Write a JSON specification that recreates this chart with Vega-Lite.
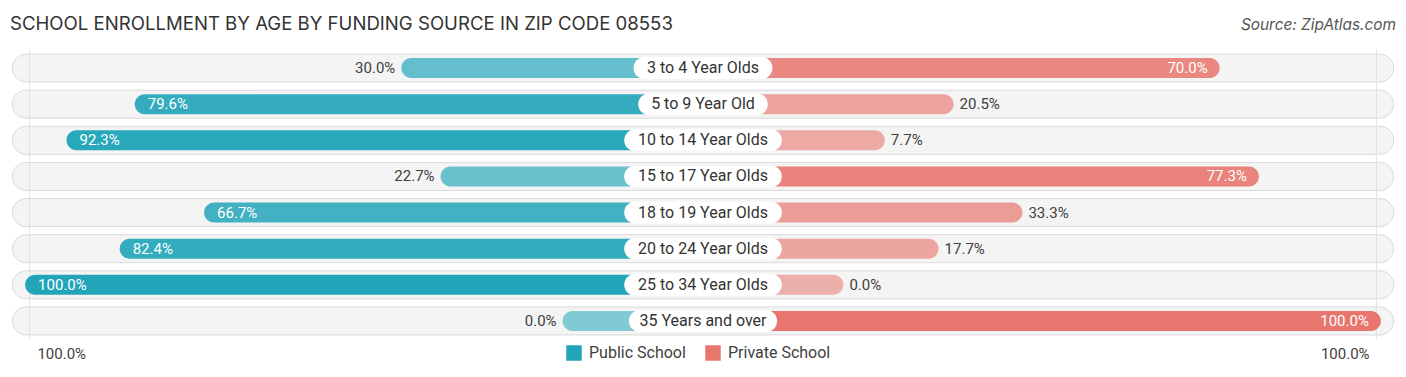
{
  "$schema": "https://vega.github.io/schema/vega-lite/v6.json",
  "width": 1406,
  "height": 289,
  "autosize": {"type": "none"},
  "padding": {"top": 50, "left": 0, "right": 0, "bottom": 38},
  "background": "white",
  "title": {
    "text": "SCHOOL ENROLLMENT BY AGE BY FUNDING SOURCE IN ZIP CODE 08553",
    "anchor": "start",
    "frame": "group",
    "dx": 10,
    "offset": -17,
    "font": "Inter",
    "fontSize": 18.6,
    "fontWeight": "normal",
    "color": "#333333"
  },
  "datasets": {
    "enroll": [
      {"age": "3 to 4 Year Olds", "source": "Public School", "value": 0.300},
      {"age": "3 to 4 Year Olds", "source": "Private School", "value": 0.700},
      {"age": "5 to 9 Year Old", "source": "Public School", "value": 0.796},
      {"age": "5 to 9 Year Old", "source": "Private School", "value": 0.205},
      {"age": "10 to 14 Year Olds", "source": "Public School", "value": 0.923},
      {"age": "10 to 14 Year Olds", "source": "Private School", "value": 0.077},
      {"age": "15 to 17 Year Olds", "source": "Public School", "value": 0.227},
      {"age": "15 to 17 Year Olds", "source": "Private School", "value": 0.773},
      {"age": "18 to 19 Year Olds", "source": "Public School", "value": 0.667},
      {"age": "18 to 19 Year Olds", "source": "Private School", "value": 0.333},
      {"age": "20 to 24 Year Olds", "source": "Public School", "value": 0.824},
      {"age": "20 to 24 Year Olds", "source": "Private School", "value": 0.177},
      {"age": "25 to 34 Year Olds", "source": "Public School", "value": 1.000},
      {"age": "25 to 34 Year Olds", "source": "Private School", "value": 0.000},
      {"age": "35 Years and over", "source": "Public School", "value": 0.000},
      {"age": "35 Years and over", "source": "Private School", "value": 1.000}
    ]
  },
  "data": {"name": "enroll"},
  "layer": [
    {
      "transform": [{"filter": "datum.source == 'Public School'"}],
      "mark": {"type": "bar", "height": 28, "cornerRadius": 14, "fill": "#f4f4f4", "stroke": "#dadada", "strokeWidth": 1},
      "encoding": {
        "y": {"field": "age", "type": "nominal", "sort": ["3 to 4 Year Olds", "5 to 9 Year Old", "10 to 14 Year Olds", "15 to 17 Year Olds", "18 to 19 Year Olds", "20 to 24 Year Olds", "25 to 34 Year Olds", "35 Years and over"], "scale": {"paddingInner": 0, "paddingOuter": 0}, "axis": null},
        "x": {"datum": -128.5, "type": "quantitative", "scale": {"domain": [-130.8, 130.8], "nice": false, "zero": false},
          "axis": {"orient": "bottom", "values": [-119.4, 119.4], "labelExpr": "'100.0%'", "domain": false, "ticks": false, "grid": false, "labelFlush": false, "labelPadding": 7, "labelFont": "Roboto", "labelFontSize": 15, "labelColor": "#404040", "title": null}},
        "x2": {"datum": 128.5}
      }
    },
    {
      "data": {"values": [{"edge": "left"}]},
      "mark": {"type": "rule", "color": "#e2e2e2", "strokeWidth": 1},
      "encoding": {
        "x": {"datum": -125.3, "type": "quantitative", "scale": {"domain": [-130.8, 130.8], "nice": false, "zero": false}, "axis": null}
      }
    },
    {
      "data": {"values": [{"edge": "right"}]},
      "mark": {"type": "rule", "color": "#e2e2e2", "strokeWidth": 1},
      "encoding": {
        "x": {"datum": 125.3, "type": "quantitative", "scale": {"domain": [-130.8, 130.8], "nice": false, "zero": false}, "axis": null}
      }
    },
    {
      "transform": [{"filter": "datum.source == 'Public School'"}],
      "mark": {"type": "bar", "height": 20, "cornerRadius": 10},
      "encoding": {
        "y": {"field": "age", "type": "nominal", "sort": ["3 to 4 Year Olds", "5 to 9 Year Old", "10 to 14 Year Olds", "15 to 17 Year Olds", "18 to 19 Year Olds", "20 to 24 Year Olds", "25 to 34 Year Olds", "35 Years and over"], "axis": null},
        "x": {"field": "value", "type": "quantitative", "scale": {"domain": [-1.5693, 1.0467], "reverse": true, "nice": false, "zero": false}, "axis": null},
        "x2": {"datum": -0.2614},
        "color": {"field": "source", "type": "nominal", "title": null, "scale": {"domain": ["Public School", "Private School"], "range": ["#22a5b8", "#e8766e"]}},
        "opacity": {"field": "value", "type": "quantitative", "scale": {"domain": [0, 1], "range": [0.55, 1]}, "legend": null}
      }
    },
    {
      "transform": [{"filter": "datum.source == 'Private School'"}],
      "mark": {"type": "bar", "height": 20, "cornerRadius": 10},
      "encoding": {
        "y": {"field": "age", "type": "nominal", "sort": ["3 to 4 Year Olds", "5 to 9 Year Old", "10 to 14 Year Olds", "15 to 17 Year Olds", "18 to 19 Year Olds", "20 to 24 Year Olds", "25 to 34 Year Olds", "35 Years and over"], "axis": null},
        "x": {"field": "value", "type": "quantitative", "scale": {"domain": [-1.5693, 1.0467], "nice": false, "zero": false}, "axis": null},
        "x2": {"datum": -0.2614},
        "color": {"field": "source", "type": "nominal", "title": null, "scale": {"domain": ["Public School", "Private School"], "range": ["#22a5b8", "#e8766e"]}},
        "opacity": {"field": "value", "type": "quantitative", "scale": {"domain": [0, 1], "range": [0.55, 1]}, "legend": null}
      }
    },
    {
      "transform": [
        {"filter": "datum.source == 'Public School'"},
        {"calculate": "-(0.87 * length(datum.age) - 1)", "as": "boxLeft"},
        {"calculate": "0.87 * length(datum.age) - 1", "as": "boxRight"}
      ],
      "mark": {"type": "bar", "height": 22, "cornerRadius": 11, "fill": "white"},
      "encoding": {
        "y": {"field": "age", "type": "nominal", "sort": ["3 to 4 Year Olds", "5 to 9 Year Old", "10 to 14 Year Olds", "15 to 17 Year Olds", "18 to 19 Year Olds", "20 to 24 Year Olds", "25 to 34 Year Olds", "35 Years and over"], "axis": null},
        "x": {"field": "boxLeft", "type": "quantitative", "scale": {"domain": [-130.8, 130.8], "nice": false, "zero": false},
          "axis": {"orient": "top", "values": [128.85], "labelExpr": "'Source: ZipAtlas.com'", "labelAlign": "right", "labelFontStyle": "italic", "labelFont": "Inter", "labelFontSize": 15.4, "labelColor": "#555555", "domain": false, "ticks": false, "grid": false, "labelFlush": false, "labelPadding": 18, "title": null}},
        "x2": {"field": "boxRight"}
      }
    },
    {
      "transform": [{"filter": "datum.source == 'Public School'"}],
      "mark": {"type": "text", "font": "Roboto", "fontSize": 16, "color": "#333333", "align": "center", "baseline": "middle"},
      "encoding": {
        "y": {"field": "age", "type": "nominal", "sort": ["3 to 4 Year Olds", "5 to 9 Year Old", "10 to 14 Year Olds", "15 to 17 Year Olds", "18 to 19 Year Olds", "20 to 24 Year Olds", "25 to 34 Year Olds", "35 Years and over"], "axis": null},
        "x": {"datum": 0, "type": "quantitative", "scale": {"domain": [-130.8, 130.8], "nice": false, "zero": false}, "axis": null},
        "text": {"field": "age"}
      }
    },
    {
      "transform": [{"filter": "datum.source == 'Public School' && datum.value < 0.5"}],
      "mark": {"type": "text", "font": "Roboto", "fontSize": 15, "color": "#404040", "align": "right", "baseline": "middle", "dx": -6},
      "encoding": {
        "y": {"field": "age", "type": "nominal", "sort": ["3 to 4 Year Olds", "5 to 9 Year Old", "10 to 14 Year Olds", "15 to 17 Year Olds", "18 to 19 Year Olds", "20 to 24 Year Olds", "25 to 34 Year Olds", "35 Years and over"], "axis": null},
        "x": {"field": "value", "type": "quantitative", "scale": {"domain": [-1.5693, 1.0467], "reverse": true, "nice": false, "zero": false}, "axis": null},
        "text": {"field": "value", "type": "quantitative", "format": ".1%"}
      }
    },
    {
      "transform": [{"filter": "datum.source == 'Public School' && datum.value >= 0.5"}],
      "mark": {"type": "text", "font": "Roboto", "fontSize": 15, "color": "white", "align": "left", "baseline": "middle", "dx": 13},
      "encoding": {
        "y": {"field": "age", "type": "nominal", "sort": ["3 to 4 Year Olds", "5 to 9 Year Old", "10 to 14 Year Olds", "15 to 17 Year Olds", "18 to 19 Year Olds", "20 to 24 Year Olds", "25 to 34 Year Olds", "35 Years and over"], "axis": null},
        "x": {"field": "value", "type": "quantitative", "scale": {"domain": [-1.5693, 1.0467], "reverse": true, "nice": false, "zero": false}, "axis": null},
        "text": {"field": "value", "type": "quantitative", "format": ".1%"}
      }
    },
    {
      "transform": [{"filter": "datum.source == 'Private School' && datum.value < 0.5"}],
      "mark": {"type": "text", "font": "Roboto", "fontSize": 15, "color": "#404040", "align": "left", "baseline": "middle", "dx": 6},
      "encoding": {
        "y": {"field": "age", "type": "nominal", "sort": ["3 to 4 Year Olds", "5 to 9 Year Old", "10 to 14 Year Olds", "15 to 17 Year Olds", "18 to 19 Year Olds", "20 to 24 Year Olds", "25 to 34 Year Olds", "35 Years and over"], "axis": null},
        "x": {"field": "value", "type": "quantitative", "scale": {"domain": [-1.5693, 1.0467], "nice": false, "zero": false}, "axis": null},
        "text": {"field": "value", "type": "quantitative", "format": ".1%"}
      }
    },
    {
      "transform": [{"filter": "datum.source == 'Private School' && datum.value >= 0.5"}],
      "mark": {"type": "text", "font": "Roboto", "fontSize": 15, "color": "white", "align": "right", "baseline": "middle", "dx": -12},
      "encoding": {
        "y": {"field": "age", "type": "nominal", "sort": ["3 to 4 Year Olds", "5 to 9 Year Old", "10 to 14 Year Olds", "15 to 17 Year Olds", "18 to 19 Year Olds", "20 to 24 Year Olds", "25 to 34 Year Olds", "35 Years and over"], "axis": null},
        "x": {"field": "value", "type": "quantitative", "scale": {"domain": [-1.5693, 1.0467], "nice": false, "zero": false}, "axis": null},
        "text": {"field": "value", "type": "quantitative", "format": ".1%"}
      }
    }
  ],
  "resolve": {"scale": {"x": "independent"}, "axis": {"x": "independent"}},
  "config": {
    "view": {"stroke": null},
    "legend": {
      "orient": "none",
      "legendX": 566,
      "legendY": 295,
      "direction": "horizontal",
      "padding": 0,
      "symbolType": "square",
      "symbolSize": 240,
      "symbolStrokeWidth": 0,
      "labelFont": "Roboto",
      "labelFontSize": 16,
      "labelColor": "#404040",
      "labelOffset": 7,
      "columnPadding": 19
    }
  }
}
